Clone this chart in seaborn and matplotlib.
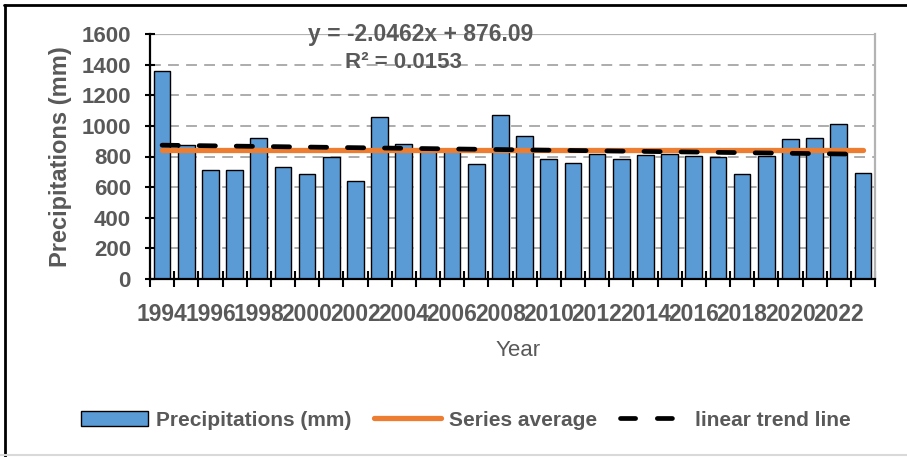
import matplotlib
matplotlib.use("Agg")
import matplotlib.pyplot as plt
import seaborn as sns
import numpy as np
import pandas as pd
from matplotlib.lines import Line2D
from matplotlib.patches import Patch

# ---- data ----
years = list(range(1994, 2024))
precip = [1360, 878, 712, 712, 921, 729, 683, 797, 642, 1057,
          884, 855, 848, 753, 1070, 934, 786, 755, 818, 783,
          808, 818, 802, 798, 688, 803, 914, 918, 1013, 692]
trend_slope = -2.0462
trend_intercept = 876.09
r_squared = 0.0153
y_ticks = [0, 200, 400, 600, 800, 1000, 1200, 1400, 1600]

df = pd.DataFrame({"Year": [str(y) for y in years], "Precip": precip})
mean_val = float(np.mean(precip))
idx = np.arange(len(years))
trend_vals = trend_slope * (idx + 1) + trend_intercept

sns.set_theme(style="white")
plt.rcParams["font.family"] = ["Liberation Sans", "DejaVu Sans"]
TXT = "#595959"

fig = plt.figure(figsize=(9.07, 4.57), dpi=100)
ax = fig.add_axes([150/907, 1-279/457, 725/907, 245/457])

sns.barplot(data=df, x="Year", y="Precip", ax=ax, color="#5B9BD5",
            saturation=1, width=0.69, edgecolor="black", linewidth=1.0, zorder=2)

ax.plot(idx, [mean_val]*len(idx), color="#ED7D31", lw=3.8,
        solid_capstyle="round", zorder=3)
ax.plot(idx, trend_vals, color="black", lw=3.4, dashes=(3.45, 4.4),
        dash_capstyle="round", zorder=4)

ax.set_xlim(-0.5, len(years) - 0.5)
ax.set_ylim(0, 1600)
ax.set_yticks(y_ticks)
ax.set_yticklabels([str(v) for v in y_ticks], fontsize=16, fontweight="bold", color=TXT)

ax.set_xticks(idx[::2])
ax.set_xticklabels([str(y) for y in years[::2]], fontsize=16.5, fontweight="bold", color=TXT)
ax.set_xticks(np.arange(-0.5, len(years)), minor=True)
ax.tick_params(axis="x", which="major", length=0, pad=17)
ax.tick_params(axis="x", which="minor", direction="inout", length=11,
               width=1.5, color="black", bottom=True)
ax.tick_params(axis="y", which="major", direction="inout", length=7.5,
               width=1.5, color="black", left=True, pad=10)

# grid
for v in y_ticks[1:-1]:
    ax.axhline(v, color="#A6A6A6", lw=1.3, dashes=(6, 4), zorder=0)
ax.axhline(1600, color="#B3B3B3", lw=1.6, zorder=0)

ax.spines["top"].set_visible(False)
ax.spines["right"].set_visible(True)
ax.spines["right"].set_color("#B3B3B3")
ax.spines["right"].set_linewidth(1.6)
for s in ["left", "bottom"]:
    ax.spines[s].set_color("black")
    ax.spines[s].set_linewidth(1.6)
    ax.spines[s].set_zorder(5)

ax.set_ylabel("Precipitations (mm)", fontsize=17, fontweight="bold", color=TXT)
ax.yaxis.label.set_va("center")
ax.yaxis.set_label_coords((60-150)/725, 0.5)
ax.set_xlabel("Year", fontsize=16, color=TXT)
ax.xaxis.label.set_va("center")
ax.xaxis.set_label_coords((518-150)/725, (279-350)/245)

# trend equation
ax.text((421-150)/725, (279-34)/245, f"y = {trend_slope}x + {trend_intercept}",
        transform=ax.transAxes, ha="center", va="center", fontsize=16.5,
        fontweight="bold", color=TXT, zorder=6)
ax.text((403-150)/725, (279-63)/245, f"R\u00b2 = {r_squared}",
        transform=ax.transAxes, ha="center", va="center", fontsize=16,
        fontweight="bold", color=TXT, zorder=6)

# legend
handles = [Patch(facecolor="#5B9BD5", edgecolor="black", linewidth=1.0),
           Line2D([0], [0], color="#ED7D31", lw=3.8),
           Line2D([0], [0], color="black", lw=3.4, dashes=(3.2, 4.6), dash_capstyle="round")]
labels = ["Precipitations (mm)", "Series average", "linear trend line"]
leg = fig.legend(handles, labels, loc="center", bbox_to_anchor=(466/907, 1-420/457),
                 ncol=3, frameon=False, handlelength=3.2, handletextpad=0.4,
                 columnspacing=1.1, prop={"family": "Liberation Sans", "weight": "bold", "size": 15})
for t in leg.get_texts():
    t.set_color(TXT)

# figure frame
fig.add_artist(Line2D([5.3/907, 5.3/907], [0, 1-5.3/457], transform=fig.transFigure,
                      color="black", lw=2.0))
fig.add_artist(Line2D([4.3/907, 1], [1-5.3/457, 1-5.3/457], transform=fig.transFigure,
                      color="black", lw=2.0))
fig.add_artist(Line2D([0, 1], [2/457, 2/457], transform=fig.transFigure,
                      color="#D9D9D9", lw=1.5))

fig.savefig("out.png", dpi=100)
